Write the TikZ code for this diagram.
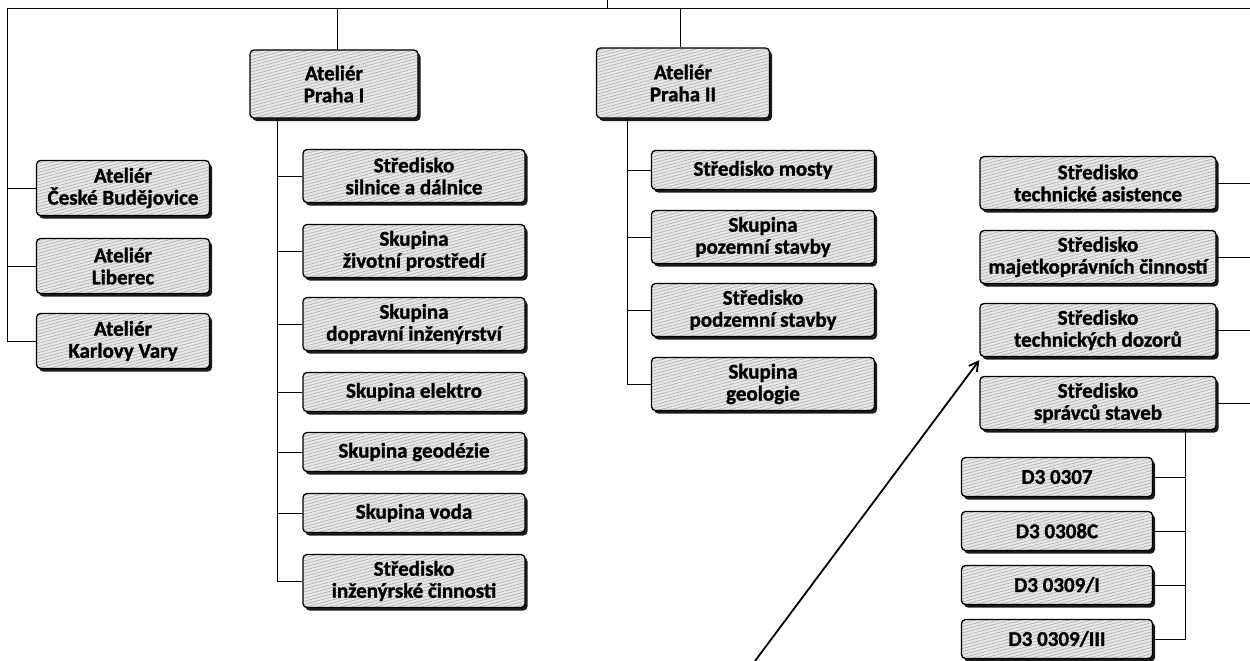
\documentclass[tikz,border=0pt]{standalone}
\usepackage{fontspec}
\setmainfont{Carlito}[BoldFeatures={FakeBold=1.2}]
\usetikzlibrary{shadows,patterns.meta,arrows.meta}
\tikzset{
  box/.style={draw=black, line width=1.3pt, rounded corners=4pt, align=center,
    font=\bfseries\fontsize{21}{22}\selectfont, inner sep=0pt,
    drop shadow={shadow xshift=2.5pt, shadow yshift=-3pt, fill=black, opacity=0.9},
    preaction={fill=gray!18},
    pattern={Lines[angle=15,distance=3pt,line width=0.7pt]}, pattern color=gray!60},
  twol/.style={box, minimum height=53pt},
  onel/.style={box, minimum height=39pt},
  link/.style={draw=black, line width=0.9pt},
  ptr/.style={draw=black, line width=1.8pt, -{Straight Barb[length=9pt,width=10pt,line width=1.8pt]}}
}
\begin{document}
\begin{tikzpicture}[x=1pt,y=-1pt]
\useasboundingbox (0,0) rectangle (1250,661);
% top-level nodes
\node[box, minimum width=168pt, minimum height=68pt] (P1) at (334,84) {Ateliér\\Praha I};
\node[box, minimum width=173pt, minimum height=70pt] (P2) at (683,83) {Ateliér\\Praha II};
% left
\node[box, minimum width=173pt, minimum height=55pt] (cb) at (123,188) {Ateliér\\České Budějovice};
\node[box, minimum width=173pt, minimum height=55pt] (lb) at (123,266) {Ateliér\\Liberec};
\node[box, minimum width=173pt, minimum height=55pt] (kv) at (123,341) {Ateliér\\Karlovy Vary};
% Praha I children
\node[twol, minimum width=222pt] (a1) at (414,176) {Středisko\\silnice a dálnice};
\node[twol, minimum width=222pt] (a2) at (414,251) {Skupina\\životní prostředí};
\node[twol, minimum width=222pt] (a3) at (414,324) {Skupina\\dopravní inženýrství};
\node[onel, minimum width=222pt] (a4) at (414,392) {Skupina elektro};
\node[onel, minimum width=222pt] (a5) at (414,452) {Skupina geodézie};
\node[onel, minimum width=222pt] (a6) at (414,513) {Skupina voda};
\node[twol, minimum width=222pt] (a7) at (414,581) {Středisko\\inženýrské činnosti};
% Praha II children
\node[onel, minimum width=223pt] (b1) at (763,170) {Středisko mosty};
\node[twol, minimum width=223pt] (b2) at (763,237) {Skupina\\pozemní stavby};
\node[twol, minimum width=223pt] (b3) at (763,310) {Středisko\\podzemní stavby};
\node[twol, minimum width=223pt] (b4) at (763,384) {Skupina\\geologie};
% right column
\node[twol, minimum width=236pt] (r1) at (1098,183) {Středisko\\technické asistence};
\node[twol, minimum width=236pt] (r2) at (1098,257) {Středisko\\majetkoprávních činností};
\node[twol, minimum width=236pt] (r3) at (1098,330) {Středisko\\technických dozorů};
\node[twol, minimum width=236pt] (r4) at (1098,403) {Středisko\\správců staveb};
% D3
\node[onel, minimum width=191pt] (d1) at (1057,477) {D3 0307};
\node[onel, minimum width=191pt] (d2) at (1057,531) {D3 0308C};
\node[onel, minimum width=191pt] (d3) at (1057,585) {D3 0309/I};
\node[onel, minimum width=191pt] (d4) at (1057,639) {D3 0309/III};
% coordinates
\coordinate (TL) at (7,8);
\coordinate (TR) at (1250,8);
\coordinate (Top) at (607,0);
\coordinate (arrS) at (755,661);
% connectors
\draw[link] (TL) -- (TR);
\draw[link] (Top) -- (Top |- TL);
\draw[link] ([xshift=3pt]P1.north) -- ([xshift=3pt]P1.north |- TL);
\draw[link] ([xshift=-3pt]P2.north) -- ([xshift=-3pt]P2.north |- TL);
\foreach \n in {cb,lb,kv} \draw[link] (TL) |- (\n.west);
\foreach \n in {a1,a2,a3,a4,a5,a6,a7} \draw[link] ([xshift=-57pt]P1.south) |- (\n.west);
\foreach \n in {b1,b2,b3,b4} \draw[link] ([xshift=-56pt]P2.south) |- (\n.west);
\foreach \n in {r1,r2,r3,r4} \draw[link] (\n.east) -- (\n.east -| TR);
\foreach \n in {d1,d2,d3,d4} \draw[link] ([xshift=87pt]r4.south) |- (\n.east);
\draw[ptr] (arrS) -- ([yshift=-3pt]r3.south west);
\end{tikzpicture}
\end{document}
